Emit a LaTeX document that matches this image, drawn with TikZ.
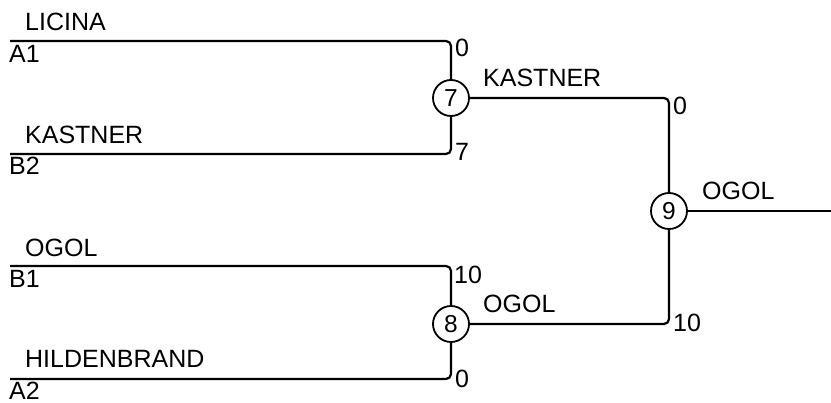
\documentclass[tikz,border=0pt]{standalone}
\usepackage{fontspec}
\setmainfont{Liberation Sans}
\begin{document}
\begin{tikzpicture}[x=1pt,y=-1pt,
  wire/.style={line width=2.2pt,rounded corners=5pt},
  matchnode/.style={circle,draw,line width=1.8pt,minimum size=36pt,inner sep=0pt,font=\fontsize{24.5}{27}\selectfont},
  lbl/.style={anchor=base west,inner sep=0pt,font=\fontsize{25}{28}\selectfont}]
\useasboundingbox (0,0) rectangle (831,403);
% coordinates of line starts
\coordinate (a1) at (10,41);
\coordinate (b2) at (10,154);
\coordinate (b1) at (10,266);
\coordinate (a2) at (10,379);
\coordinate (out) at (831,211);
% match nodes
\node[matchnode] (c7) at (451,98) {7};
\node[matchnode] (c8) at (451,324) {8};
\node[matchnode] (c9) at (669,211) {9};
% connectors
\draw[wire] (a1) -| (c7);
\draw[wire] (b2) -| (c7);
\draw[wire] (b1) -| (c8);
\draw[wire] (a2) -| (c8);
\draw[wire] (c7) -| (c9);
\draw[wire] (c8) -| (c9);
\draw[wire] (c9) -- (out);
% labels
\node[lbl] (tLICINA) at (25,31) {LICINA};
\node[lbl] (tA1) at (9,62.5) {A1};
\node[lbl] (tKAS1) at (25,143.3) {KASTNER};
\node[lbl] (tB2) at (9,175) {B2};
\node[lbl] (tOGOL1) at (25,257) {OGOL};
\node[lbl] (tB1) at (9,288) {B1};
\node[lbl] (tHIL) at (25,368) {HILDENBRAND};
\node[lbl] (tA2) at (9,400) {A2};
\node[lbl] (s70) at (455,57) {0};
\node[lbl] (s77) at (455,160.5) {7};
\node[lbl] (s810) at (454,284) {10};
\node[lbl] (s80) at (455,388) {0};
\node[lbl] (tKAS2) at (483,86.7) {KASTNER};
\node[lbl] (tOGOL2) at (483,313) {OGOL};
\node[lbl] (s90) at (673,115) {0};
\node[lbl] (s910) at (673,332) {10};
\node[lbl] (tOGOL3) at (702,200) {OGOL};
\end{tikzpicture}
\end{document}
